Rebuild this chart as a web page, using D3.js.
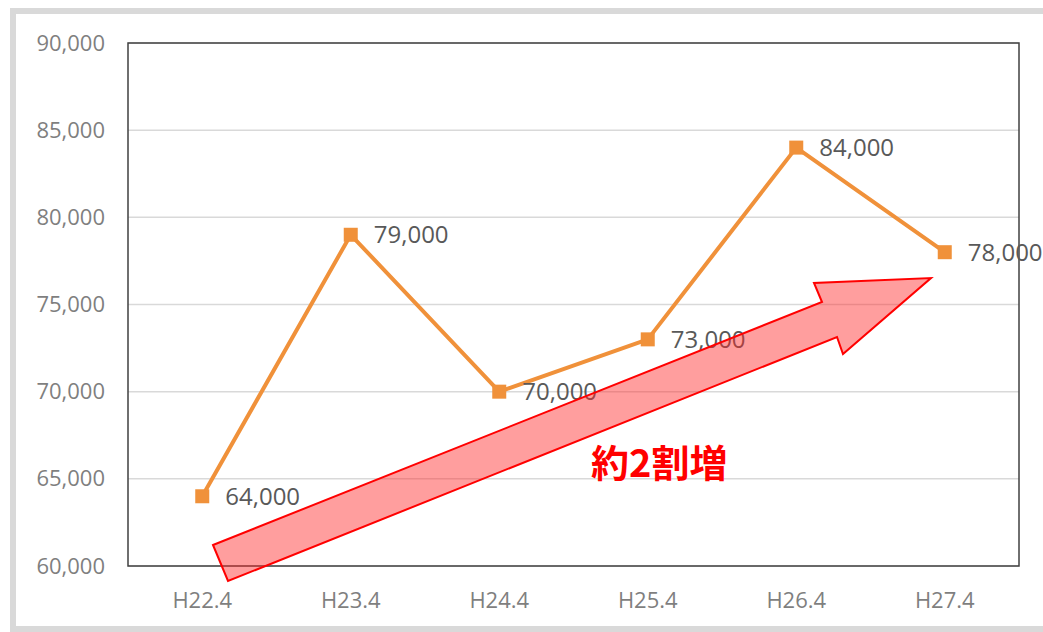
<!DOCTYPE html>
<html>
<head>
<meta charset="utf-8">
<script src="https://cdn.jsdelivr.net/npm/d3@7.9.0/dist/d3.min.js"></script>
<style>
  body { margin: 0; background: #fff; }
  svg { display: block; font-family: "Open Sans", "Noto Sans", sans-serif; }
</style>
</head>
<body>
<script>
// data
const years = ["H22.4", "H23.4", "H24.4", "H25.4", "H26.4", "H27.4"];
const values = [64000, 79000, 70000, 73000, 84000, 78000];
const yTicks = [60000, 65000, 70000, 75000, 80000, 85000, 90000];
const note = "約2割増";

const W = 1043, H = 632;
const margin = { top: 43, right: 24, bottom: 66, left: 128 };
const width = W - margin.left - margin.right;
const height = H - margin.top - margin.bottom;

const svg = d3.select("body").append("svg")
    .attr("width", W)
    .attr("height", H);

// outer grey frame
svg.append("rect")
    .attr("x", 13).attr("y", 11)
    .attr("width", W + 20).attr("height", H - 14)
    .attr("fill", "none")
    .attr("stroke", "#d9d9d9")
    .attr("stroke-width", 6);

const g = svg.append("g")
    .attr("transform", `translate(${margin.left},${margin.top})`);

const x = d3.scaleBand()
    .domain(years)
    .range([0, width]);

const y = d3.scaleLinear()
    .domain([60000, 90000])
    .range([height, 0]);

// gridlines
g.selectAll(".grid")
    .data(yTicks)
    .enter().append("line")
    .attr("x1", 0).attr("x2", width)
    .attr("y1", d => y(d)).attr("y2", d => y(d))
    .attr("stroke", "#d9d9d9")
    .attr("stroke-width", 1.5);

// plot border
g.append("rect")
    .attr("width", width).attr("height", height)
    .attr("fill", "none")
    .attr("stroke", "#404040")
    .attr("stroke-width", 1.5);

// y axis labels
const yAxis = g.append("g")
    .call(d3.axisLeft(y).tickValues(yTicks).tickSize(0).tickPadding(23).tickFormat(d3.format(",")));
yAxis.select(".domain").remove();
yAxis.selectAll("text")
    .attr("fill", "#7f7f7f")
    .style("font-size", "22px")
    .style("font-family", "Open Sans");

// x axis labels
const xAxis = g.append("g")
    .attr("transform", `translate(0,${height})`)
    .call(d3.axisBottom(x).tickSize(0).tickPadding(26));
xAxis.select(".domain").remove();
xAxis.selectAll("text")
    .attr("fill", "#7f7f7f")
    .style("font-size", "22px")
    .style("font-family", "Open Sans");

const cx = (d, i) => x(years[i]) + x.bandwidth() / 2;

// line
const line = d3.line()
    .x((d, i) => cx(d, i))
    .y(d => y(d));

g.append("path")
    .datum(values)
    .attr("d", line)
    .attr("fill", "none")
    .attr("stroke", "#f0913a")
    .attr("stroke-width", 4)
    .attr("stroke-linejoin", "round");

// markers
g.selectAll(".marker")
    .data(values)
    .enter().append("rect")
    .attr("x", (d, i) => cx(d, i) - 7)
    .attr("y", d => y(d) - 7)
    .attr("width", 14).attr("height", 14)
    .attr("fill", "#f0913a");

// data labels
g.selectAll(".label")
    .data(values)
    .enter().append("text")
    .attr("x", (d, i) => cx(d, i) + 23)
    .attr("y", d => y(d))
    .attr("dy", "0.35em")
    .attr("fill", "#595959")
    .style("font-size", "24px")
    .text(d => d3.format(",")(d));

// red arrow annotation (pixel points inside the plot)
const arrow = [
    [213, 545], [822, 302], [814, 283], [931, 278],
    [843, 354], [837, 337], [228, 581]
].map(([px, py]) => [px - margin.left, py - margin.top]);

g.append("path")
    .attr("d", d3.line()(arrow) + "Z")
    .attr("fill", "rgba(255, 40, 40, 0.45)")
    .attr("stroke", "#ff0000")
    .attr("stroke-width", 2)
    .attr("stroke-linejoin", "miter");

g.append("text")
    .attr("x", 591 - margin.left)
    .attr("y", 477 - margin.top)
    .attr("fill", "#ff0000")
    .style("font-family", "'Noto Sans CJK JP'")
    .style("font-weight", "bold")
    .style("font-size", "38px")
    .text(note);
</script>
</body>
</html>
